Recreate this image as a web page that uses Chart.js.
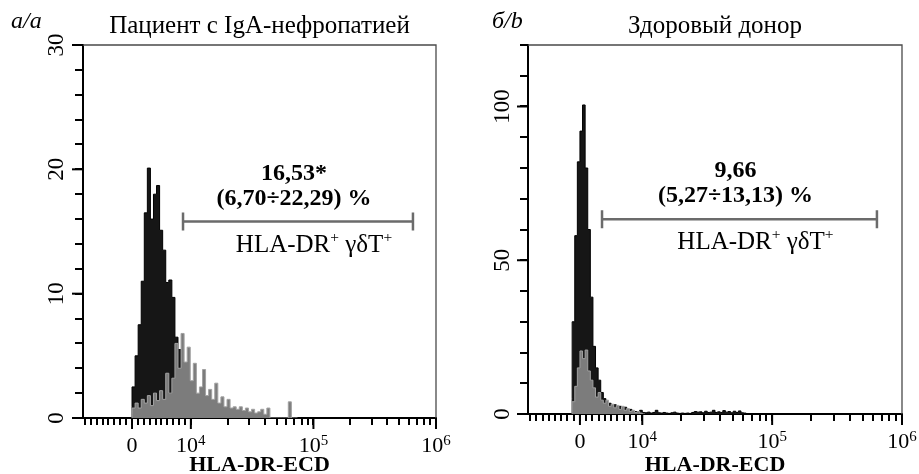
<!DOCTYPE html>
<html><head><meta charset="utf-8">
<script src="https://cdn.jsdelivr.net/npm/chart.js@4/dist/chart.umd.min.js"></script>
<style>
html,body{margin:0;padding:0;background:#fff;width:919px;height:474px;overflow:hidden}
canvas{position:absolute;top:0}
#cA{left:0} #cB{left:460px}
</style></head><body>
<canvas id="cA" width="460" height="474"></canvas>
<canvas id="cB" width="459" height="474"></canvas>
<script>
// ---------------- data ----------------
const panelTitles = ['Пациент с IgA-нефропатией', 'Здоровый донор'];
const panelTags = ['а/a', 'б/b'];
const xAxisTitle = 'HLA-DR-ECD';

// x axis (biexponential display): raw fluorescence values of ticks
const xMajorRaw = [0, 1e4, 1e5, 1e6];
const xMajorLabels = ['0', '10^4', '10^5', '10^6'];
const xMinorRaw = [-8000, -7000, -6000, -5000, -4000, -3000, -2000, -1000,
  1000, 2000, 3000, 4000, 5000, 6000, 7000, 8000, 9000,
  20000, 30000, 40000, 50000, 60000, 70000, 80000, 90000,
  200000, 300000, 400000, 500000, 600000, 700000, 800000, 900000];

// y axes
const yTicksA = [0, 2, 4, 6, 8, 10, 12, 14, 16, 18, 20, 22, 24, 26, 28, 30];
const yLabelsA = [0, 10, 20, 30];
const yTicksB = [0, 10, 20, 30, 40, 50, 60, 70, 80, 90, 100, 110, 120];
const yLabelsB = [0, 50, 100];

// histograms (counts per channel bin; bin positions in display decades)
const binStartA = 3.52, binWidthA = 0.025;
const blackA = [0.9, 2.5, 5, 7.5, 11, 16.5, 20.1, 16, 18, 18.7, 15.1, 13.5, 10.9, 11.1, 9.7, 6.5, 5.5, 2, 0.8];
const greyA = [0.3, 0.8, 1.2, 0.8, 1.5, 1.2, 1.8, 1.0, 2.0, 1.4, 2.2, 1.5, 3.6, 2.0, 3.2, 6.0, 4.0, 6.8, 4.5, 5.7,
  3.0, 4.4, 2.0, 2.5, 3.9, 1.8, 2.3, 1.5, 2.8, 1.2, 1.7, 0.9, 1.5, 0.8, 0.9, 0.7, 0.9, 0.6, 0.8, 0.5,
  0.7, 0.4, 0.5, 0.7, 0.3, 0.8, 0, 0, 0, 0, 0, 0, 1.3, 0];

const binStartB = 3.46, binWidthB = 0.02;
const blackB = [5, 30, 58, 82, 92, 100.5, 80, 60, 38, 22, 15, 11, 7, 5, 4, 3.5, 2.5, 3, 2, 2.5,
  1.5, 2.2, 1.2, 1.5, 0.5, 0.8, 0.8, 1.2, 0.5, 0.4, 0.6, 0.3, 0.5, 1.2, 0.4, 0.3, 0.5, 0.3, 0.2, 0.4,
  0.6, 0.3, 0.2, 0.3, 0.2, 0.3, 0.2, 0.5, 0.8, 0.6, 0.7, 0.4, 0.9, 0.5, 0.6, 1.2, 0.5, 0.7, 0.5, 1.1,
  0.6, 0.8, 0.4, 0.9, 0.5, 1.0, 0.4, 0.3];
const greyB = [0.5, 4, 9, 15, 20.5, 18, 20.8, 14, 11, 8.5, 5.5, 7, 4.5, 3.5, 4.5, 2.5, 3.2, 2, 2.8, 1.5,
  2.5, 1.2, 1.8, 0.8, 1.2, 0.5, 0.8, 0.3];

// gates (display decades) and their level (counts)
const gateA = [3.936, 5.812], gateLevelA = 15.8;
const gateB = [3.69, 5.807], gateLevelB = 63.3;
const statsA = ['16,53*', '(6,70÷22,29) %'];
const statsB = ['9,66', '(5,27÷13,13) %'];
const gateLabel = 'HLA-DR^+ γδT^+';

// ---------------- rendering ----------------
const SERIF = '"Liberation Serif", "Times New Roman", "DejaVu Serif", serif';
const LIN_U0 = 3.52, LIN_U1 = 4, LIN_TOP = 1e4;
function toAxis(v) { return v <= LIN_TOP ? LIN_U0 + (LIN_U1 - LIN_U0) * v / LIN_TOP : Math.log10(v); }
const xAllRaw = xMinorRaw.concat(xMajorRaw);
function histPoints(start, w, arr) {
  const out = [{x: start, y: 0}];
  arr.forEach((v, i) => out.push({x: start + i * w, y: v}));
  out.push({x: start + arr.length * w, y: 0});
  return out;
}
// "a^b c^d" -> segments, superscript = char after ^
function parseSup(str) {
  const segs = []; let cur = '';
  for (let i = 0; i < str.length; i++) {
    if (str[i] === '^' && i + 1 < str.length) {
      if (cur) segs.push({t: cur}); cur = '';
      segs.push({t: str[i + 1], sup: true}); i++;
    } else cur += str[i];
  }
  if (cur) segs.push({t: cur});
  return segs;
}
function drawRich(ctx, str, cx, base, size, weight, supScale, supRaise) {
  const segs = parseSup(str);
  const fnt = s => `${weight} ${s}px ${SERIF}`;
  let w = 0;
  const ws = segs.map(s => { ctx.font = fnt(s.sup ? size * supScale : size); const m = ctx.measureText(s.t).width; w += m; return m; });
  let x = cx - w / 2;
  ctx.textAlign = 'left'; ctx.textBaseline = 'alphabetic'; ctx.fillStyle = '#000';
  segs.forEach((s, i) => {
    ctx.font = fnt(s.sup ? size * supScale : size);
    ctx.fillText(s.t, x, s.sup ? base - size * supRaise : base);
    x += ws[i];
  });
}

function makeChart(id, p) {
  const extras = {
    id: 'extras' + id,
    afterDraw(chart) {
      const ctx = chart.ctx, a = chart.chartArea;
      const xs = chart.scales.x, ys = chart.scales.y;
      ctx.save();
      // frame top + right
      ctx.strokeStyle = '#4a4a4a'; ctx.lineWidth = 1.3;
      ctx.beginPath(); ctx.moveTo(a.left, a.top); ctx.lineTo(a.right, a.top); ctx.lineTo(a.right, a.bottom); ctx.stroke();
      // longer major ticks + x tick labels with superscripts
      ctx.strokeStyle = '#000'; ctx.lineWidth = 2;
      xMajorRaw.forEach((v, i) => {
        const px = xs.getPixelForValue(toAxis(v));
        ctx.beginPath(); ctx.moveTo(px, a.bottom); ctx.lineTo(px, a.bottom + 11); ctx.stroke();
        drawRich(ctx, xMajorLabels[i], px, a.bottom + 34, 22, 'normal', 0.68, 0.33);
      });
      p.yLabels.forEach(v => { const py = ys.getPixelForValue(v); ctx.beginPath(); ctx.moveTo(a.left, py); ctx.lineTo(a.left - 11, py); ctx.stroke(); });
      // gate
      const gy = ys.getPixelForValue(p.gateLevel);
      const g1 = xs.getPixelForValue(p.gate[0]), g2 = xs.getPixelForValue(p.gate[1]);
      ctx.strokeStyle = '#6b6b6b'; ctx.lineWidth = 2.5;
      ctx.beginPath(); ctx.moveTo(g1, gy); ctx.lineTo(g2, gy);
      ctx.moveTo(g1, gy - 9); ctx.lineTo(g1, gy + 9);
      ctx.moveTo(g2, gy - 9); ctx.lineTo(g2, gy + 9); ctx.stroke();
      const gc = (g1 + g2) / 2;
      drawRich(ctx, p.stats[0], gc - 4, gy - 42, 24, 'bold', 1, 0);
      drawRich(ctx, p.stats[1], gc - 4, gy - 17, 24, 'bold', 1, 0);
      drawRich(ctx, gateLabel, gc + 16, gy + 30, 25, 'normal', 0.62, 0.4);
      // title & tag
      drawRich(ctx, p.title, (a.left + a.right) / 2, 33, 25, 'normal', 1, 0);
      ctx.font = `italic 24px ${SERIF}`; ctx.textAlign = 'left'; ctx.fillStyle = '#000';
      ctx.fillText(p.tag, p.tagX, 28);
      ctx.restore();
    }
  };
  return new Chart(document.getElementById(id), {
    type: 'line',
    data: {
      datasets: [
        {data: histPoints(p.binStart, p.binWidth, p.grey), stepped: 'after', fill: 'origin',
         backgroundColor: '#7c7c7c', borderColor: '#a2a2a2', borderWidth: 1, pointRadius: 0},
        {data: histPoints(p.binStart, p.binWidth, p.black), stepped: 'after', fill: 'origin',
         backgroundColor: '#161616', borderColor: '#000', borderWidth: 1, pointRadius: 0}
      ]
    },
    options: {
      responsive: false, animation: false, devicePixelRatio: 1,
      layout: {padding: {top: 45, right: p.padRight, left: 0, bottom: 0}},
      plugins: {legend: {display: false}, tooltip: {enabled: false}, title: {display: false}},
      elements: {line: {tension: 0}, point: {radius: 0}},
      scales: {
        x: {
          type: 'linear', min: 3.12, max: 6.0,
          afterBuildTicks: s => { s.ticks = xAllRaw.map(v => ({value: toAxis(v)})); },
          afterFit: s => { s.height = p.xAxisHeight; },
          ticks: {autoSkip: false, maxRotation: 0, minRotation: 0, padding: 5, color: '#000',
                  font: {family: SERIF, size: 22}, callback: () => ''},
          grid: {drawOnChartArea: false, drawTicks: true, tickLength: 7, color: '#000', lineWidth: 2},
          border: {display: true, color: '#000', width: 2},
          title: {display: true, text: xAxisTitle, color: '#000',
                  font: {family: SERIF, size: 22, weight: 'bold', lineHeight: 0.8}, padding: {top: 0, bottom: 0}}
        },
        y: {
          type: 'linear', min: 0, max: p.yMax,
          afterBuildTicks: s => { s.ticks = p.yTicks.map(v => ({value: v})); },
          afterFit: s => { s.width = p.yAxisWidth; },
          ticks: {autoSkip: false, minRotation: 90, maxRotation: 90, crossAlign: 'center', padding: p.yPad,
                  color: '#000', font: {family: SERIF, size: 23},
                  callback: v => p.yLabels.includes(v) ? String(v) : ''},
          grid: {drawOnChartArea: false, drawTicks: true, tickLength: 8, color: '#000', lineWidth: 2},
          border: {display: true, color: '#000', width: 2}
        }
      }
    },
    plugins: [extras]
  });
}

makeChart('cA', {
  title: panelTitles[0], tag: panelTags[0], tagX: 11,
  binStart: binStartA, binWidth: binWidthA, black: blackA, grey: greyA,
  yMax: 30, yTicks: yTicksA, yLabels: yLabelsA, yPad: 7,
  padRight: 24, yAxisWidth: 83, xAxisHeight: 56,
  gate: gateA, gateLevel: gateLevelA, stats: statsA
});
makeChart('cB', {
  title: panelTitles[1], tag: panelTags[1], tagX: 32,
  binStart: binStartB, binWidth: binWidthB, black: blackB, grey: greyB,
  yMax: 120, yTicks: yTicksB, yLabels: yLabelsB, yPad: 0,
  padRight: 17, yAxisWidth: 68, xAxisHeight: 60,
  gate: gateB, gateLevel: gateLevelB, stats: statsB
});
</script>
</body></html>
